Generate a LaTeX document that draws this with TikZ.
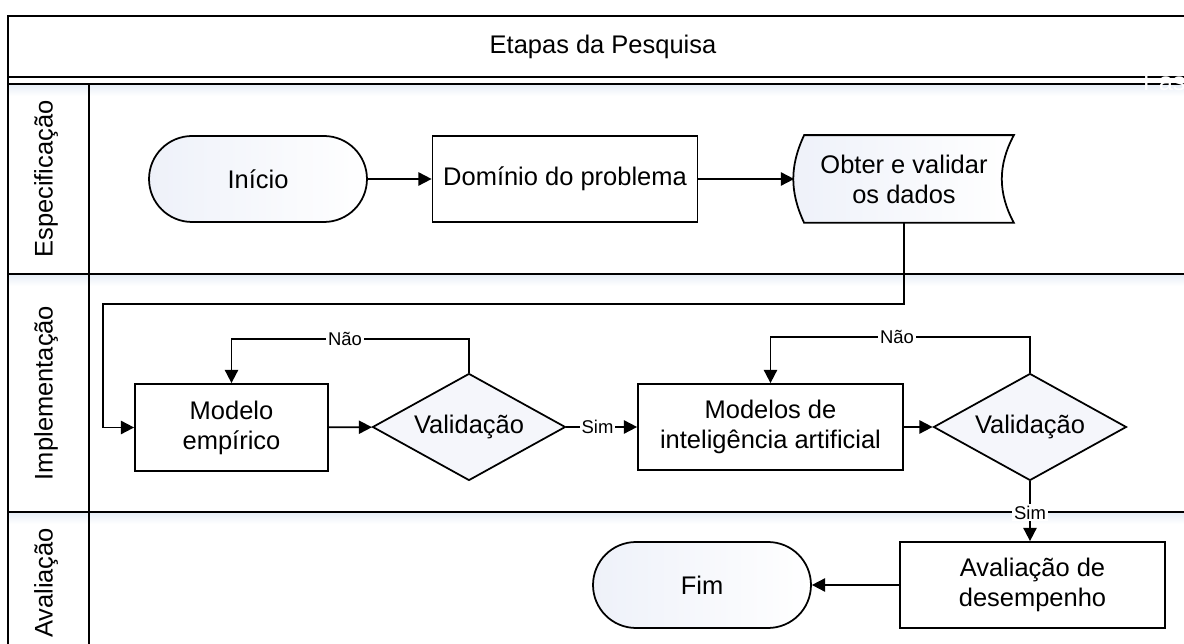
\documentclass[tikz,border=0pt]{standalone}
\usepackage{fontspec}
\setmainfont{Liberation Sans}
\usetikzlibrary{shapes.geometric,arrows.meta,backgrounds}

\definecolor{bleuclair}{HTML}{EEF1F9}
\definecolor{bleudiam}{HTML}{F5F6FB}
\definecolor{ombre}{HTML}{E6EDF6}

\tikzset{etape/.style = {draw, line width=1pt, fill=white, align=center,
                         minimum height=1.72cm, inner sep=2pt,
                         font=\fontsize{14.5}{17}\selectfont},
         terminal/.style = {etape, rounded corners=0.86cm,
                            left color=bleuclair, right color=white},
         decision/.style = {etape, diamond, aspect=1.8, fill=bleudiam, inner sep=0pt,
                            minimum width=3.86cm, minimum height=2.14cm},
         fleche/.style = {line width=1pt, -{Triangle[length=7.5pt,width=7.5pt]}},
         oui/.style = {fill=white, inner sep=1pt, font=\fontsize{10.5}{12}\selectfont},
         couloir/.style = {rotate=90, font=\fontsize{14.5}{17}\selectfont}
        }

\begin{document}
\begin{tikzpicture}[x=0.02cm, y=-0.02cm]
  \useasboundingbox (0,0) rectangle (1184,644);
  \clip (0,0) rectangle (1184,644);
  % couloirs
  \foreach \y in {84, 274, 512}
      {\shade[top color=ombre, bottom color=white] (8,\y) rectangle (1200,\y+12);};
  \draw[line width=1pt] (1200,16) -- (8,16) -- (8,660);
  \foreach \y in {77, 84, 274, 512}
      {\draw[line width=1pt] (8,\y) -- (1200,\y);};
  \draw[line width=1pt] (89,84) -- (89,660);
  \node[font=\fontsize{14.5}{17}\selectfont] (titre) at (603,47) {Etapas da Pesquisa};
  \node[anchor=west, text=white, font=\fontsize{14.5}{17}\selectfont] (fase) at (1137,82) {Fase};
  \node[couloir] (spec) at (46,179) {Especificação};
  \node[couloir] (impl) at (46,393) {Implementação};
  \node[couloir] (aval) at (46,583) {Avaliação};

  % etapes
  \node[terminal, minimum width=4.36cm] (debut) at (258,179) {Início};
  \node[etape, minimum width=5.3cm] (domaine) at (565,179) {Domínio do problema};
  \node[etape, draw=none, fill=none, minimum width=4.36cm] (dados) at (904,179) {Obter e validar\\os dados};
  \begin{pgfonlayer}{background}
    \shade[left color=bleuclair, right color=white, draw, line width=1pt]
      ([xshift=0.2cm]dados.north west) to[bend right=25] ([xshift=0.2cm]dados.south west)
      -- (dados.south east) to[bend left=28] (dados.north east) -- cycle;
  \end{pgfonlayer}
  \node[etape, minimum width=3.86cm, minimum height=1.74cm] (empirique) at (231.5,427.5) {Modelo\\empírico};
  \node[decision] (valid1) at (469,427) {Validação};
  \node[etape, minimum width=5.3cm] (ia) at (770.5,427) {Modelos de\\inteligência artificial};
  \node[decision] (valid2) at (1030,427) {Validação};
  \node[etape, minimum width=5.3cm] (perf) at (1032.5,585) {Avaliação de\\desempenho};
  \node[terminal, minimum width=4.36cm] (fin) at (702,585) {Fim};

  % liaisons
  \coordinate (retour) at (103,304);
  \coordinate (boucle1) at (345,339);
  \coordinate (boucle2) at (897,337);
  \draw[fleche] (debut) -- (domaine);
  \draw[fleche] (domaine) -- (dados);
  \draw[fleche] (dados.south) |- (retour) |- (empirique.west);
  \draw[fleche] (empirique) -- (valid1);
  \draw[fleche] (valid1.north) |- (boucle1) node[oui] {Não} -| (empirique.north);
  \draw[fleche] (valid1) -- node[oui, pos=0.44] {Sim} (ia);
  \draw[fleche] (ia) -- (valid2);
  \draw[fleche] (valid2.north) |- (boucle2) node[oui] {Não} -| (ia.north);
  \draw[fleche] (valid2.south) -- node[oui, pos=0.52] {Sim} (valid2.south |- perf.north);
  \draw[fleche] (perf) -- (fin);
\end{tikzpicture}
\end{document}
